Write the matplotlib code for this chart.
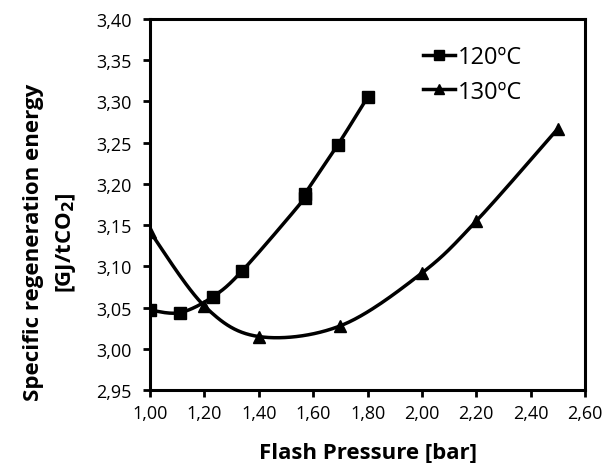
import numpy as np
import matplotlib
matplotlib.use("Agg")
import matplotlib.pyplot as plt

# data
p_120 = [1.00, 1.11, 1.23, 1.34, 1.57, 1.57, 1.69, 1.80]
e_120 = [3.047, 3.044, 3.063, 3.095, 3.183, 3.188, 3.247, 3.305]
p_130 = [1.00, 1.20, 1.40, 1.70, 2.00, 2.20, 2.50]
e_130 = [3.142, 3.052, 3.015, 3.028, 3.092, 3.155, 3.267]

x_ticks = [1.0, 1.2, 1.4, 1.6, 1.8, 2.0, 2.2, 2.4, 2.6]
y_ticks = [2.95, 3.00, 3.05, 3.10, 3.15, 3.20, 3.25, 3.30, 3.35, 3.40]
xlim = (1.0, 2.6)
ylim = (2.95, 3.40)

plt.rcParams["font.family"] = ["Open Sans", "DejaVu Sans"]


def smooth(xs, ys, n=30):
    # Excel-style smoothed line: cubic Bezier with Catmull-Rom control points,
    # computed in pixel-like space
    sx = (xlim[1] - xlim[0]) / 435.0
    sy = (ylim[1] - ylim[0]) / 371.0
    pts = np.column_stack([np.asarray(xs) / sx, np.asarray(ys) / sy])
    out = [pts[0]]
    t = np.linspace(0, 1, n)[1:, None]
    for i in range(len(pts) - 1):
        p0 = pts[max(i - 1, 0)]
        p1 = pts[i]
        p2 = pts[i + 1]
        p3 = pts[min(i + 2, len(pts) - 1)]
        c1 = p1 + (p2 - p0) / 6.0
        c2 = p2 - (p3 - p1) / 6.0
        seg = ((1 - t) ** 3) * p1 + 3 * ((1 - t) ** 2) * t * c1 \
            + 3 * (1 - t) * t ** 2 * c2 + t ** 3 * p2
        out.extend(seg)
    out = np.array(out)
    return out[:, 0] * sx, out[:, 1] * sy


fig = plt.figure(figsize=(6.05, 4.64), dpi=100)
ax = fig.add_axes([0.248, 0.157, 0.719, 0.8])

for xs, ys, mk, label in [(p_120, e_120, "s", "120ºC"), (p_130, e_130, "^", "130ºC")]:
    lx, ly = smooth(xs, ys)
    ax.plot(lx, ly, color="black", linewidth=2.5)
    ax.plot(xs, ys, linestyle="none", marker=mk, markersize=9, color="black")
    ax.plot([], [], color="black", linewidth=2.5, marker=mk, markersize=7, label=label)

ax.set_xlim(*xlim)
ax.set_ylim(*ylim)
ax.set_xticks(x_ticks)
ax.set_yticks(y_ticks)
ax.set_xticklabels([f"{v:.2f}".replace(".", ",") for v in x_ticks])
ax.set_yticklabels([f"{v:.2f}".replace(".", ",") for v in y_ticks])
ax.tick_params(direction="out", length=5, width=2, labelsize=13)
ax.tick_params(axis="y", pad=8)
ax.tick_params(axis="x", pad=5)
for spine in ax.spines.values():
    spine.set_linewidth(2.2)

ax.set_xlabel("Flash Pressure [bar]", fontsize=16, fontweight="bold", labelpad=14)
ax.set_ylabel("Specific regeneration energy\n[GJ/tCO$_\\mathbf{2}$]",
              fontsize=16, fontweight="bold", linespacing=1.6)
ax.yaxis.set_label_coords(-0.166, 0.40)

ax.legend(loc="upper left", bbox_to_anchor=(0.628, 0.93), frameon=False,
          borderaxespad=0, borderpad=0,
          fontsize=17, handlelength=1.35, handletextpad=0.1, labelspacing=0.45)

fig.savefig("out.png", dpi=100)
